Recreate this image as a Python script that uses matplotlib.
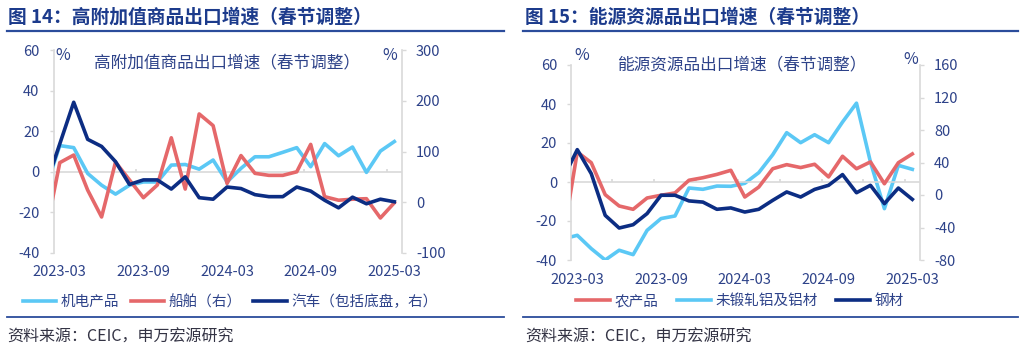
import numpy as np
import matplotlib.pyplot as plt
from matplotlib.lines import Line2D

plt.rcParams['font.family'] = ['Noto Sans CJK SC', 'DejaVu Sans']
plt.rcParams['axes.unicode_minus'] = False

# month index: -1 = 2023-02 (clipped at the axis), 0 = 2023-03 ... 24 = 2025-03
x = np.arange(-1, 25)
tick_pos = [0, 6, 12, 18, 24]
tick_labels = ['2023-03', '2023-09', '2024-03', '2024-09', '2025-03']

# fig 14 (left axis: 机电产品, right axis: 船舶, 汽车)
jidian = [-8, 12.9, 11.9, -0.8, -6.6, -11, -6.6, -5, -5, 3.3, 3.6, 1.3, 5.8, -5,
          1.7, 7.4, 7.4, 9.6, 11.9, 2.5, 13.9, 7.9, 12.2, -0.3, 10.2, 14.9]
chuanbo = [-60, 78, 93, 24, -29, 79, 44, 9, 34, 127, 26, 174, 151, 37,
           92, 57, 53, 53, 60, 114, 11, 4, 6, 7, -31, -1]
qiche = [33, 115, 197, 124, 110, 80, 35, 44, 44, 26, 50, 9, 6, 30,
         27, 15, 11, 11, 30, 22, 4, -11, 10, -3, 6, 1]

# fig 15 (left axis: 农产品, 钢材, right axis: 未锻轧铝及铝材)
nongchan = [-28, 15.4, 9.9, -6.5, -12.3, -14, -8.2, -6.8, -5.6, 0.9, 2.2, 3.9, 6, -7.7,
            -2.6, 6.8, 8.9, 7.4, 9.1, 2.6, 13.2, 6.8, 10.3, -0.9, 9.9, 14.4]
lv = [-54, -49.6, -66, -80, -68, -73.4, -43.5, -29, -25.8, 8.6, 7, 11, 10.7, 14.4,
      27.5, 49.6, 76.7, 64.4, 74.2, 64.4, 89.8, 113, 40.6, -16.8, 36.5, 31.6]
gangcai = [2, 16.6, 4.3, -17.1, -23.6, -21.9, -16.2, -6.8, -6.8, -9.7, -10.3, -14, -13.3, -15.4,
           -14, -9.4, -5.1, -7.7, -3.8, -1.7, 3.8, -5.5, -1.7, -11.1, -3.1, -8.9]

c_light = '#5bc8f5'
c_red = '#e5686a'
c_navy = '#0c2d83'
c_text = '#2d4289'
c_title = '#1c3b8c'
c_grey = '#d9d9d9'

W, H = 1024, 349
fig = plt.figure(figsize=(W / 100, H / 100), dpi=100)


def px(xp, yp):
    return xp / W, 1 - yp / H


def setup(ax, ax2, ylim, ylim2, yt, yt2, minor):
    ax.set_xlim(-0.45, 24.55)
    ax.set_ylim(*ylim)
    ax2.set_ylim(*ylim2)
    ax.set_yticks(yt)
    ax2.set_yticks(yt2)
    ax.set_xticks(tick_pos)
    ax.set_xticklabels(tick_labels)
    for a in (ax, ax2):
        for s in a.spines.values():
            s.set_visible(False)
        a.tick_params(axis='y', length=3, width=1, color=c_grey, labelcolor=c_text,
                      labelsize=10.5, pad=7)
    ax.spines['left'].set_visible(True)
    ax.spines['left'].set_color(c_grey)
    ax.spines['left'].set_linewidth(1.2)
    ax2.spines['right'].set_visible(True)
    ax2.spines['right'].set_color(c_grey)
    ax2.spines['right'].set_linewidth(1.2)
    ax.tick_params(axis='x', length=0, labelcolor=c_text, labelsize=10.5, pad=9)
    ax.axhline(0, color=c_grey, lw=1.2, zorder=1)
    ax.vlines(minor, 0, 1.6, color=c_grey, lw=1.2, zorder=1)


# ---- fig 14
ax1 = fig.add_axes([53.5 / W, 1 - 253 / H, 348.5 / W, 203 / H])
ax1b = ax1.twinx()
setup(ax1, ax1b, (-40, 60), (-100, 300), [-40, -20, 0, 20, 40, 60],
      [-100, 0, 100, 200, 300], [5.5, 11.5, 17.5, 23.5])
l1, = ax1.plot(x, jidian, color=c_light, lw=2.6, zorder=3)
l2, = ax1b.plot(x, chuanbo, color=c_red, lw=2.6, zorder=3)
l3, = ax1b.plot(x, qiche, color=c_navy, lw=2.6, zorder=4)
ax1.legend([l1, l2, l3], ['机电产品', '船舶（右）', '汽车（包括底盘，右）'],
           loc='center', bbox_to_anchor=px(230, 302), bbox_transform=fig.transFigure,
           ncol=3, frameon=False, fontsize=10.5, handlelength=2.3, handletextpad=0.3,
           columnspacing=0.8, labelcolor=c_text)

# ---- fig 15
ax2 = fig.add_axes([571 / W, 1 - 260 / H, 349 / W, 195 / H])
ax2b = ax2.twinx()
setup(ax2, ax2b, (-40, 60), (-80, 160), [-40, -20, 0, 20, 40, 60],
      [-80, -40, 0, 40, 80, 120, 160], [2.5, 5.5, 8.5, 11.5, 14.5, 17.5, 20.5, 23.5])
m1, = ax2.plot(x, nongchan, color=c_red, lw=2.6, zorder=3)
m2, = ax2b.plot(x, lv, color=c_light, lw=2.6, zorder=3)
m3, = ax2.plot(x, gangcai, color=c_navy, lw=2.6, zorder=4)
ax2.legend([m1, m2, m3], ['农产品', '未锻轧铝及铝材', '钢材'],
           loc='center', bbox_to_anchor=px(740, 301), bbox_transform=fig.transFigure,
           ncol=3, frameon=False, fontsize=10.5, handlelength=2.3, handletextpad=0.3,
           columnspacing=1.3, labelcolor=c_text)
ax2b.set_zorder(ax2.get_zorder() - 1)
ax2.patch.set_visible(False)

# titles, rules, notes
fig.text(*px(8, 17), '图 14：高附加值商品出口增速（春节调整）', fontsize=13.5,
         fontweight='bold', color=c_title, va='center', ha='left')
fig.text(*px(525, 17), '图 15：能源资源品出口增速（春节调整）', fontsize=13.5,
         fontweight='bold', color=c_title, va='center', ha='left')
fig.text(*px(227, 63), '高附加值商品出口增速（春节调整）', fontsize=12,
         color=c_text, va='center', ha='center')
fig.text(*px(742, 65), '能源资源品出口增速（春节调整）', fontsize=12,
         color=c_text, va='center', ha='center')
for xp, yp in [(63, 55), (390, 55), (582, 55), (911, 60)]:
    fig.text(*px(xp, yp), '%', fontsize=11.5, color=c_text, va='center', ha='center')

for x0, x1 in [(7, 504), (523, 1018)]:
    fig.add_artist(Line2D([x0 / W, x1 / W], [1 - 31 / H] * 2, color='#2b4c9b', lw=1.6))
    fig.add_artist(Line2D([x0 / W, x1 / W], [1 - 317 / H] * 2, color='#2b4c9b', lw=1.3))
fig.text(*px(7, 337), '资料来源：CEIC，申万宏源研究', fontsize=11.5, color='#333344',
         va='center', ha='left')
fig.text(*px(525, 337), '资料来源：CEIC，申万宏源研究', fontsize=11.5, color='#333344',
         va='center', ha='left')

fig.savefig('out.png', dpi=100)
